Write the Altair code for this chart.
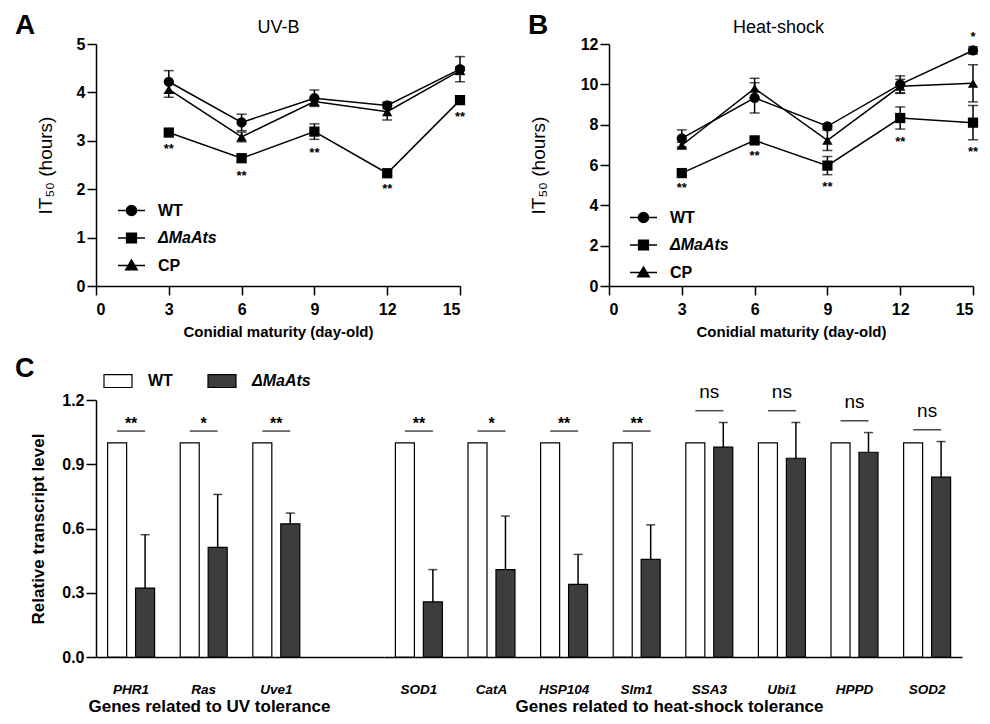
import altair as alt
import pandas as pd

FONT = "Liberation Sans"

# ---------------- Panels A / B: IT50 over conidial maturity ----------------
days = [3, 6, 9, 12, 15]
strains = ["WT", "ΔMaAts", "CP"]
shapes = ["circle", "square", "triangle-up"]

uv_wt = [4.22, 3.38, 3.88, 3.73, 4.48]
uv_wt_sd = [0.23, 0.17, 0.17, 0.07, 0.26]
uv_mut = [3.17, 2.64, 3.19, 2.33, 3.84]
uv_mut_sd = [0.07, 0.08, 0.16, 0.05, 0.06]
uv_cp = [4.06, 3.08, 3.81, 3.60, 4.45]
uv_cp_sd = [0.16, 0.10, 0.08, 0.17, 0.08]
uv_sig_mut = ["**", "**", "**", "**", "**"]
uv_sig_wt = ["", "", "", "", ""]

heat_wt = [7.32, 9.33, 7.92, 10.00, 11.68]
heat_wt_sd = [0.42, 0.75, 0.12, 0.42, 0.18]
heat_mut = [5.60, 7.22, 5.97, 8.33, 8.10]
heat_mut_sd = [0.12, 0.15, 0.45, 0.55, 0.85]
heat_cp = [6.98, 9.80, 7.22, 9.90, 10.05]
heat_cp_sd = [0.15, 0.50, 0.50, 0.35, 0.92]
heat_sig_mut = ["**", "**", "**", "**", "**"]
heat_sig_wt = ["", "", "", "", "*"]

# legend symbols: line stub + marker (unit box -1..1)
legend_paths = [
    "M-1,0H1M0.37,0A0.37,0.37,0,1,1,-0.37,0A0.37,0.37,0,1,1,0.37,0Z",
    "M-1,0H1M-0.36,-0.36H0.36V0.36H-0.36Z",
    "M-1,0H1M0,-0.4L0.42,0.32H-0.42Z",
]

# ---------------- Panel C: relative transcript levels ----------------
uv_genes = ["PHR1", "Ras", "Uve1"]
uv_wt_level = [1.0, 1.0, 1.0]
uv_mut_level = [0.322, 0.512, 0.622]
uv_mut_level_sd = [0.249, 0.247, 0.050]
uv_gene_sig = ["**", "*", "**"]

heat_genes = ["SOD1", "CatA", "HSP104", "Slm1", "SSA3", "Ubi1", "HPPD", "SOD2"]
heat_wt_level = [1.0, 1.0, 1.0, 1.0, 1.0, 1.0, 1.0, 1.0]
heat_mut_level = [0.257, 0.408, 0.339, 0.456, 0.980, 0.928, 0.956, 0.840]
heat_mut_level_sd = [0.151, 0.250, 0.140, 0.161, 0.115, 0.167, 0.092, 0.166]
heat_gene_sig = ["**", "*", "**", "**", "ns", "ns", "ns", "ns"]

bar_strains = ["WT", "ΔMaAts"]
bar_colors = ["white", "#3d3d3d"]

ITALIC_EXPR = "datum.label == 'ΔMaAts' ? 'italic' : 'normal'"


def long_df(means, sds):
    rows = []
    for s, m, e in zip(strains, means, sds):
        for d, v, sd in zip(days, m, e):
            rows.append({"day": d, "strain": s, "mean": v, "lo": v - sd, "hi": v + sd})
    return pd.DataFrame(rows)


def sig_df(values, sds, labels, above):
    rows = []
    for d, v, sd, lab in zip(days, values, sds, labels):
        if lab:
            rows.append({"day": d, "y": v + sd if above else v - sd, "label": lab})
    return pd.DataFrame(rows, columns=["day", "y", "label"])


def line_panel(df, below, above, ymax, ystep, letter, title, title_x, ytitle_pad,
               lx, ly, star_dy):
    xs = alt.Scale(domain=[0, 15], nice=False)
    ys = alt.Scale(domain=[0, ymax], nice=False)
    xn = alt.X("day:Q", scale=xs, axis=None)
    base = alt.Chart(df)

    lines = base.mark_line(color="black", strokeWidth=1.5).encode(
        x=alt.X("day:Q", scale=xs, axis=alt.Axis(
            values=[0, 3, 6, 9, 12, 15], title="Conidial maturity  (day-old)",
            tickSize=9, labelFontSize=16, labelFontWeight="bold", labelPadding=6,
            titleFontSize=15, titleFontWeight="bold", titlePadding=7)),
        y=alt.Y("mean:Q", scale=ys, axis=alt.Axis(
            values=list(range(0, ymax + 1, ystep)), title="IT₅₀ (hours)",
            tickSize=9, labelFontSize=16, labelFontWeight="bold", labelPadding=2,
            titleFontSize=19, titleFontWeight="normal", titlePadding=ytitle_pad)),
        detail="strain:N",
    )
    rules = base.mark_rule(color="black", strokeWidth=1.5).encode(
        x=xn, y=alt.Y("lo:Q", scale=ys), y2="hi:Q")
    cap_lo = base.mark_tick(color="black", thickness=1.5, size=10, orient="horizontal").encode(
        x=xn, y=alt.Y("lo:Q", scale=ys))
    cap_hi = base.mark_tick(color="black", thickness=1.5, size=10, orient="horizontal").encode(
        x=xn, y=alt.Y("hi:Q", scale=ys))

    point_layers = []
    for s, sh in zip(strains, shapes):
        point_layers.append(
            base.transform_filter(alt.datum.strain == s)
            .mark_point(shape=sh, filled=True, color="black", size=105, opacity=1)
            .encode(x=xn, y=alt.Y("mean:Q", scale=ys))
        )

    legend_layer = base.mark_point(filled=False, fill="black", color="black",
                                   strokeWidth=1.5, opacity=0).encode(
        x=xn, y=alt.Y("mean:Q", scale=ys),
        shape=alt.Shape("strain:N", scale=alt.Scale(domain=strains, range=legend_paths),
                        legend=alt.Legend(
                            title=None, orient="none", legendX=lx, legendY=ly,
                            symbolSize=729, symbolStrokeWidth=1.5,
                            symbolOpacity=1, labelFontSize=16, labelFontWeight="bold",
                            labelFontStyle=alt.ExprRef(ITALIC_EXPR),
                            labelOffset=12, rowPadding=4.5, padding=0)),
    )

    stars_below = alt.Chart(below).mark_text(
        dy=star_dy, fontSize=13, fontWeight="bold", color="black", baseline="middle").encode(
        x=xn, y=alt.Y("y:Q", scale=ys), text="label:N")
    layers = [lines, rules, cap_lo, cap_hi] + point_layers + [legend_layer, stars_below]
    if len(above):
        stars_above = alt.Chart(above).mark_text(
            dy=-10, fontSize=13, fontWeight="bold", color="black", baseline="middle").encode(
            x=xn, y=alt.Y("y:Q", scale=ys), text="label:N")
        layers.append(stars_above)

    top_axis = dict(orient="top", title=title, labels=False, ticks=False, domain=False,
                    titleFontSize=18, titleFontWeight="normal", titlePadding=8)
    if title_x is not None:
        top_axis["titleX"] = title_x
    top_title = base.mark_point(opacity=0).encode(
        x=alt.X("day:Q", scale=xs, axis=alt.Axis(**top_axis)),
        y=alt.Y("mean:Q", scale=ys),
    )
    layers.append(top_title)

    return alt.layer(*layers).properties(
        width=364, height=242,
        title=alt.Title(letter, anchor="start", frame="group", dx=-81, fontSize=28,
                        fontWeight="bold", offset=-22),
    ).resolve_axis(x="independent")


def bar_panel(genes, wt, mut, sd, sig, domain, width, pad_outer, show_y,
              show_legend, group_title, title_x, letter=None):
    n = len(genes)
    bars_df = pd.DataFrame({
        "gene": genes + genes,
        "strain": ["WT"] * n + ["ΔMaAts"] * n,
        "value": wt + mut,
    })
    err_df = pd.DataFrame({
        "gene": genes,
        "strain": ["ΔMaAts"] * n,
        "mean": mut,
        "hi": [m + s for m, s in zip(mut, sd)],
        "wt": wt,
        "sig": sig,
    })
    xs = alt.Scale(domain=domain, paddingInner=0.353, paddingOuter=pad_outer)
    ys = alt.Scale(domain=[0, 1.2], nice=False)
    xo = alt.XOffset("strain:N", scale=alt.Scale(domain=bar_strains,
                                                  paddingInner=0.32, paddingOuter=0))
    ax_kwargs = dict(
        title=group_title, labelAngle=0, ticks=False, labelFontStyle="italic",
        labelFontWeight="bold", labelFontSize=13.5, labelPadding=25,
        titleFontSize=17, titleFontWeight="bold", titlePadding=3,
    )
    if title_x is not None:
        ax_kwargs["titleX"] = title_x
    if show_y:
        yaxis = alt.Axis(values=[0, 0.3, 0.6, 0.9, 1.2], format=".1f",
                         title="Relative transcript level", tickSize=10,
                         labelFontSize=16, labelFontWeight="bold", labelPadding=2,
                         titleFontSize=17, titleFontWeight="bold", titlePadding=14)
    else:
        yaxis = None
    if show_legend:
        legend = alt.Legend(
            title=None, orient="none", legendX=7, legendY=-34, direction="horizontal",
            symbolType="M-1,-0.46H1V0.46H-1Z", symbolSize=784,
            symbolStrokeColor="black", symbolStrokeWidth=1.2, symbolOpacity=1,
            labelFontSize=16, labelFontWeight="bold",
            labelFontStyle=alt.ExprRef(ITALIC_EXPR),
            labelOffset=15, columnPadding=32, padding=0)
    else:
        legend = None

    def yenc(field):
        if show_y:
            return alt.Y(field, scale=ys)
        return alt.Y(field, scale=ys, axis=None)

    def xenc():
        return alt.X("gene:N", scale=xs)

    bars = alt.Chart(bars_df).mark_bar(stroke="black", strokeWidth=1.2).encode(
        x=alt.X("gene:N", scale=xs, axis=alt.Axis(**ax_kwargs)),
        xOffset=xo,
        y=alt.Y("value:Q", scale=ys, axis=yaxis),
        fill=alt.Fill("strain:N", scale=alt.Scale(domain=bar_strains, range=bar_colors),
                      legend=legend),
    )
    err = alt.Chart(err_df)
    rule = err.mark_rule(color="black", strokeWidth=1.5).encode(
        x=xenc(), xOffset=xo, y=yenc("mean:Q"), y2="hi:Q")
    cap = err.mark_tick(color="black", thickness=1.5, size=9, orient="horizontal").encode(
        x=xenc(), xOffset=xo, y=yenc("hi:Q"))
    sigbase = err.transform_calculate(line_y="max(datum.wt, datum.hi) + 0.055")
    sigline = sigbase.mark_tick(color="black", thickness=1.5, size=28,
                                orient="horizontal").encode(
        x=xenc(), y=yenc("line_y:Q"))
    stars = sigbase.transform_filter("datum.sig != 'ns'").mark_text(
        fontSize=16, fontWeight="bold", baseline="middle", dy=-7, color="black").encode(
        x=xenc(), y=yenc("line_y:Q"), text="sig:N")
    ns = sigbase.transform_filter("datum.sig == 'ns'").mark_text(
        fontSize=19, fontWeight="normal", baseline="middle", dy=-19, color="black").encode(
        x=xenc(), y=yenc("line_y:Q"), text="sig:N")

    props = dict(width=width, height=257)
    if letter:
        props["title"] = alt.Title(letter, anchor="start", frame="group", dx=-81,
                                   fontSize=27, fontWeight="bold", offset=-17)
    return alt.layer(bars, rule, cap, sigline, stars, ns).properties(**props)


panel_a = line_panel(
    long_df([uv_wt, uv_mut, uv_cp], [uv_wt_sd, uv_mut_sd, uv_cp_sd]),
    sig_df(uv_mut, uv_mut_sd, uv_sig_mut, False),
    sig_df(uv_wt, uv_wt_sd, uv_sig_wt, True),
    5, 1, "A", "UV-B", None, 21, 21, 152, 13.5)
panel_b = line_panel(
    long_df([heat_wt, heat_mut, heat_cp], [heat_wt_sd, heat_mut_sd, heat_cp_sd]),
    sig_df(heat_mut, heat_mut_sd, heat_sig_mut, False),
    sig_df(heat_wt, heat_wt_sd, heat_sig_wt, True),
    12, 2, "B", "Heat-shock", 169, 32, 20, 159, 12.5)

panel_c_uv = bar_panel(uv_genes, uv_wt_level, uv_mut_level, uv_mut_level_sd, uv_gene_sig,
                       uv_genes + [" "], 288, 0.16, True, True,
                       "Genes related to UV tolerance", 113, "C")
panel_c_heat = bar_panel(heat_genes, heat_wt_level, heat_mut_level, heat_mut_level_sd,
                         heat_gene_sig, heat_genes, 578, 0.157, False, False,
                         "Genes related to heat-shock tolerance", 285)

top = alt.hconcat(panel_a, panel_b, spacing=149, bounds="flush").resolve_scale(
    shape="independent").resolve_legend(shape="independent")
bottom = alt.hconcat(panel_c_uv, panel_c_heat, spacing=0, bounds="flush").resolve_scale(
    fill="independent", xOffset="independent").resolve_legend(fill="independent")

chart = alt.vconcat(top, bottom, spacing=16).configure(
    font=FONT, padding={"left": 7, "top": 4, "right": 0, "bottom": 0},
).configure_view(stroke=None).configure_axis(
    grid=False, domainColor="black", domainWidth=1.5, tickColor="black", tickWidth=1.5,
    labelColor="black", titleColor="black", labelFont=FONT, titleFont=FONT,
).configure_legend(labelFont=FONT, labelColor="black").configure_title(
    font=FONT, color="black")

chart.save("out.html", embed_options={"renderer": "svg", "actions": False})
